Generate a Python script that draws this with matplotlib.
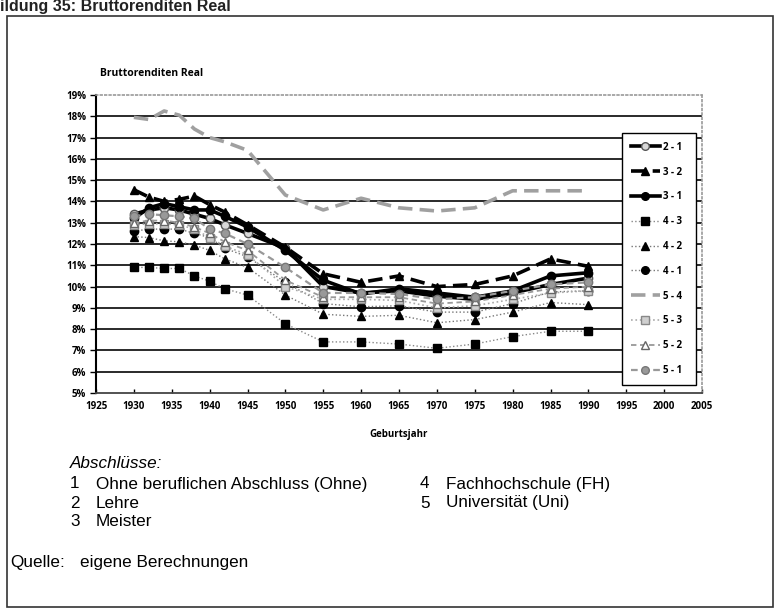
import matplotlib
matplotlib.use('Agg')
import matplotlib.pyplot as plt
from matplotlib.patches import Rectangle

# Geburtsjahr
years = [1930, 1932, 1934, 1936, 1938, 1940, 1942, 1945, 1950,
         1955, 1960, 1965, 1970, 1975, 1980, 1985, 1990]

# Bruttorenditen real in %
r_2_1 = [13.4, 13.6, 13.7, 13.6, 13.4, 13.2, 12.9, 12.5, 11.8, 10.0, 9.7, 9.8, 9.55, 9.4, 9.7, 10.1, 10.4]
r_3_2 = [14.55, 14.2, 14.0, 14.1, 14.25, 13.85, 13.5, 12.9, 11.85, 10.6, 10.2, 10.5, 10.0, 10.1, 10.5, 11.3, 10.95]
r_3_1 = [13.2, 13.7, 13.9, 13.75, 13.6, 13.6, 13.3, 12.8, 11.7, 10.3, 9.65, 9.9, 9.7, 9.5, 9.8, 10.5, 10.65]
r_4_3 = [10.9, 10.9, 10.85, 10.85, 10.5, 10.25, 9.9, 9.6, 8.25, 7.4, 7.4, 7.3, 7.1, 7.3, 7.65, 7.9, 7.9]
r_4_2 = [12.35, 12.3, 12.15, 12.1, 11.95, 11.7, 11.3, 10.9, 9.6, 8.7, 8.6, 8.65, 8.3, 8.45, 8.8, 9.25, 9.15]
r_4_1 = [12.6, 12.7, 12.7, 12.7, 12.5, 12.3, 11.8, 11.4, 10.2, 9.2, 9.05, 9.1, 8.8, 8.8, 9.2, 9.75, 9.8]
r_5_4 = [17.95, 17.85, 18.25, 18.05, 17.4, 17.0, 16.8, 16.4, 14.3, 13.6, 14.15, 13.7, 13.55, 13.7, 14.5, 14.5, 14.5]
r_5_3 = [12.9, 12.95, 12.95, 12.9, 12.7, 12.3, 11.9, 11.5, 10.0, 9.4, 9.4, 9.35, 9.0, 9.1, 9.4, 9.7, 9.8]
r_5_2 = [13.0, 13.1, 13.1, 13.0, 12.8, 12.5, 12.1, 11.7, 10.3, 9.5, 9.5, 9.5, 9.2, 9.3, 9.6, 9.9, 10.0]
r_5_1 = [13.3, 13.4, 13.35, 13.3, 13.2, 12.7, 12.5, 12.0, 10.9, 9.7, 9.7, 9.65, 9.4, 9.5, 9.8, 10.1, 10.2]

x_ticks = list(range(1925, 2006, 5))
y_ticks = list(range(5, 20))

abschluesse = [("1", "Ohne beruflichen Abschluss (Ohne)"), ("2", "Lehre"), ("3", "Meister")]
abschluesse_r = [("4", "Fachhochschule (FH)"), ("5", "Universität (Uni)")]

W, H = 782, 615
fig = plt.figure(figsize=(W / 100, H / 100), dpi=100)
bold = dict(family=['Open Sans', 'DejaVu Sans'], fontweight='bold')
arial = ['Liberation Sans', 'DejaVu Sans']

def fx(px):
    return px / W

def fy(py):
    return 1 - py / H

# outer frame and caption above it (cut at the page edge, as in the scan)
fig.patches.append(Rectangle((fx(7), fy(607)), fx(773) - fx(7), fy(16) - fy(607),
                             transform=fig.transFigure, fill=False, edgecolor='#333333', lw=1.2))
fig.text(fx(-31), fy(11), "Abbildung 35: Bruttorenditen Real", family=arial,
         fontweight='bold', fontsize=11.5, color='#222222', va='baseline')

ax = fig.add_axes([fx(96), fy(393), fx(702) - fx(96), fy(95) - fy(393)])

series = [
    ("2 - 1", r_2_1, dict(color='black', lw=2.6, ls='-', marker='o', ms=6, mfc='#d8d8d8', mec='#555555', mew=1)),
    ("3 - 2", r_3_2, dict(color='black', lw=2.6, ls=(0, (4, 2)), marker='^', ms=6, mfc='black', mec='black')),
    ("3 - 1", r_3_1, dict(color='black', lw=2.6, ls='-', marker='o', ms=6, mfc='black', mec='black')),
    ("4 - 3", r_4_3, dict(color='#888888', lw=1.0, ls=':', marker='s', ms=6, mfc='black', mec='black')),
    ("4 - 2", r_4_2, dict(color='#777777', lw=1.0, ls=':', marker='^', ms=6, mfc='black', mec='black')),
    ("4 - 1", r_4_1, dict(color='#777777', lw=1.0, ls=':', marker='o', ms=6, mfc='black', mec='black')),
    ("5 - 4", r_5_4, dict(color='#a0a0a0', lw=2.6, ls=(0, (4, 2)), marker=None)),
    ("5 - 3", r_5_3, dict(color='#aaaaaa', lw=1.2, ls=':', marker='s', ms=6, mfc='#cfcfcf', mec='#888888', mew=1)),
    ("5 - 2", r_5_2, dict(color='#999999', lw=1.3, ls=(0, (3, 2)), marker='^', ms=6, mfc='white', mec='#666666', mew=1)),
    ("5 - 1", r_5_1, dict(color='#999999', lw=1.6, ls=(0, (3, 2)), marker='o', ms=6, mfc='#999999', mec='#777777', mew=1)),
]
for label, vals, style in series:
    ax.plot(years, vals, label=label, **style)

ax.set_xlim(1925, 2005)
ax.set_ylim(5, 19)
ax.set_xticks(x_ticks)
ax.set_yticks(y_ticks)
ax.set_yticklabels([f"{v}%" for v in y_ticks], **bold, fontsize=7)
ax.set_xticklabels([str(v) for v in x_ticks], **bold, fontsize=7)
for y in y_ticks[1:-1]:
    ax.axhline(y, color='#2a2a2a', lw=1.4, zorder=0)

ax.spines['left'].set_color('black')
ax.spines['left'].set_linewidth(1.5)
ax.spines['bottom'].set_color('#444444')
ax.spines['bottom'].set_linewidth(1.3)
for s in ('top', 'right'):
    ax.spines[s].set_color('#999999')
    ax.spines[s].set_linestyle(':')
    ax.spines[s].set_linewidth(1.2)
ax.tick_params(axis='y', direction='out', length=4, width=1, pad=3)
ax.tick_params(axis='x', direction='in', length=3, width=1, pad=6)

fig.text(fx(100), fy(73), "Bruttorenditen Real", fontsize=7.5, va='center', **bold)
fig.text(fx(399), fy(434), "Geburtsjahr", fontsize=7, ha='center', va='center', **bold)

leg = ax.legend(loc='upper left', bbox_to_anchor=(fx(622), fy(133), fx(696) - fx(622), 0),
                bbox_transform=fig.transFigure, mode='expand',
                fancybox=False, framealpha=1, edgecolor='black', borderpad=0.9,
                labelspacing=1.42, handlelength=3.0, handletextpad=0.3, borderaxespad=0,
                prop=dict(family=['Open Sans', 'DejaVu Sans'], weight='bold', size=7))
leg.get_frame().set_linewidth(1.0)
for h in leg.get_lines():
    h.set_markersize(5.5)

# explanatory text below the chart
fs = 12.3
fig.text(fx(70), fy(463), "Abschlüsse:", family=arial, style='italic', fontsize=fs, va='center')
for i, (num, txt) in enumerate(abschluesse):
    yy = fy(484 + i * 19)
    fig.text(fx(70), yy, num, family=arial, fontsize=fs, va='center')
    fig.text(fx(96), yy, txt, family=arial, fontsize=fs, va='center')
for i, (num, txt) in enumerate(abschluesse_r):
    yy = fy(484 + i * 19)
    fig.text(fx(420), yy, num, family=arial, fontsize=fs, va='center')
    fig.text(fx(446), yy, txt, family=arial, fontsize=fs, va='center')
fig.text(fx(10), fy(562), "Quelle:", family=arial, fontsize=fs, va='center')
fig.text(fx(80), fy(562), "eigene Berechnungen", family=arial, fontsize=fs, va='center')

fig.savefig('out.png', dpi=100)
